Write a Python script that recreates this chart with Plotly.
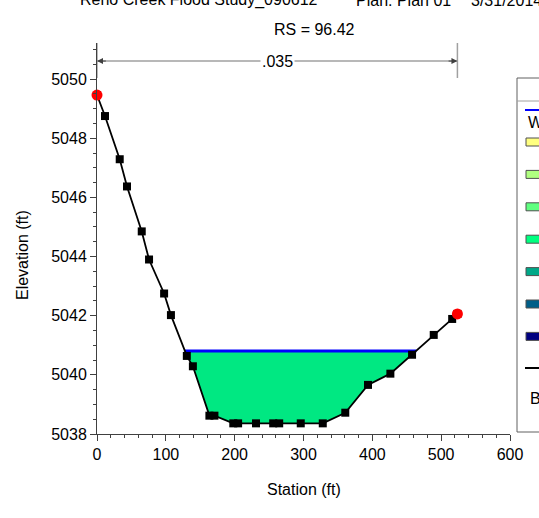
import plotly.graph_objects as go
import numpy as np

# ---------------- data ----------------
station = [0, 11.6, 33, 43.6, 65, 75.6, 97.5, 107.4, 130.5, 139.3, 163.3, 170.6,
           198, 205, 231, 256, 264.7, 296, 328, 360.7, 393.7, 426.2, 457.7,
           489.2, 516, 523.6]
elevation = [5049.46, 5048.75, 5047.29, 5046.37, 5044.85, 5043.9, 5042.75, 5042.02,
             5040.64, 5040.29, 5038.62, 5038.62, 5038.36, 5038.36, 5038.36, 5038.36,
             5038.36, 5038.36, 5038.36, 5038.72, 5039.66, 5040.04, 5040.68,
             5041.35, 5041.89, 5042.06]
bank_station = [0, 523.6]
bank_elev = [5049.46, 5042.06]
ws_elev = 5040.81
n_value = ".035"
n_from, n_to = 0, 523.6

title_parts = ["Reno Creek Flood Study_090612", "Plan: Plan 01", "3/31/2014"]
subtitle = "RS = 96.42"
x_title = "Station (ft)"
y_title = "Elevation (ft)"
legend_colors = ["#FFFF80", "#B0FF80", "#60FF80", "#00FF80", "#00A888", "#005E88", "#000080"]

FONT = "Arial, Liberation Sans, sans-serif"
W, H = 539, 518
L, R, T, B = 97, 29, 43, 84
PW, PH = W - L - R, H - T - B


def px(xp):
    return (xp - L) / PW


def py(yp):
    return (H - B - yp) / PH


# ---------------- water polygon ----------------
st = np.array(station, float)
el = np.array(elevation, float)
poly_x, poly_y = [], []
for i in range(len(st) - 1):
    a, b = el[i] - ws_elev, el[i + 1] - ws_elev
    if a < 0:
        poly_x.append(st[i]); poly_y.append(el[i])
    if a * b < 0:
        t = a / (a - b)
        poly_x.append(st[i] + t * (st[i + 1] - st[i])); poly_y.append(ws_elev)
ws_x = [min(x for x, y in zip(poly_x, poly_y) if y == ws_elev),
        max(x for x, y in zip(poly_x, poly_y) if y == ws_elev)]
poly_x.append(poly_x[0]); poly_y.append(poly_y[0])

fig = go.Figure()
fig.add_trace(go.Scatter(x=poly_x, y=poly_y, fill="toself", fillcolor="#00E882",
                         mode="none", hoverinfo="skip"))
fig.add_trace(go.Scatter(x=ws_x, y=[ws_elev, ws_elev], mode="lines",
                         line=dict(color="#0000FF", width=3)))
fig.add_trace(go.Scatter(x=station, y=elevation, mode="lines+markers",
                         line=dict(color="black", width=1.8),
                         marker=dict(symbol="square", size=8, color="black")))
fig.add_trace(go.Scatter(x=bank_station, y=bank_elev, mode="markers",
                         marker=dict(symbol="circle", size=11, color="#FF0000"),
                         cliponaxis=False))

shapes = []
annotations = []

# n value markers
n_y = 5050.61
for s in (n_from, n_to):
    shapes.append(dict(type="line", xref="x", yref="paper", x0=s, x1=s,
                       y0=py(78), y1=1, line=dict(color="#A0A0A0", width=1.5)))
shapes.append(dict(type="line", xref="x", yref="y", x0=n_from, x1=n_to, y0=n_y, y1=n_y,
                   line=dict(color="#A0A0A0", width=1.5)))
for tip, tail in ((n_from, n_from + 15), (n_to, n_to - 15)):
    annotations.append(dict(x=tip, y=n_y, ax=tail, ay=n_y, axref="x", ayref="y",
                            xref="x", yref="y", text="", showarrow=True,
                            arrowhead=2, arrowsize=1.2, arrowwidth=1,
                            arrowcolor="#404040"))
annotations.append(dict(x=(n_from + n_to) / 2, y=n_y, xref="x", yref="y", text=n_value,
                        showarrow=False, bgcolor="white",
                        font=dict(family=FONT, size=16, color="black")))

# titles
for txt, xp in zip(title_parts, (78, 354, 469)):
    annotations.append(dict(x=px(xp), y=py(0), xref="paper", yref="paper", text=txt,
                            xanchor="left", yanchor="middle", showarrow=False,
                            font=dict(family=FONT, size=16, color="black")))
annotations.append(dict(x=px(314.5), y=py(30), xref="paper", yref="paper", text=subtitle,
                        xanchor="center", yanchor="middle", showarrow=False,
                        font=dict(family=FONT, size=16, color="black")))
annotations.append(dict(x=px(304), y=py(489), xref="paper", yref="paper", text=x_title,
                        xanchor="center", yanchor="middle", showarrow=False,
                        font=dict(family=FONT, size=16, color="black")))
annotations.append(dict(x=px(22), y=py(255), xref="paper", yref="paper", text=y_title,
                        xanchor="center", yanchor="middle", showarrow=False, textangle=-90,
                        font=dict(family=FONT, size=16, color="black")))

# legend box (clipped by window)
shapes.append(dict(type="rect", xref="paper", yref="paper", x0=px(517), x1=px(600),
                   y0=py(432), y1=py(78), line=dict(color="#606060", width=1),
                   fillcolor="white"))
shapes.append(dict(type="line", xref="paper", yref="paper", x0=px(517), x1=px(600),
                   y0=py(101), y1=py(101), line=dict(color="#A0A0A0", width=1)))
shapes.append(dict(type="line", xref="paper", yref="paper", x0=px(525), x1=px(560),
                   y0=py(110), y1=py(110), line=dict(color="#0000FF", width=2)))
for i, c in enumerate(legend_colors):
    yc = 142 + i * 32.4
    shapes.append(dict(type="rect", xref="paper", yref="paper", x0=px(526), x1=px(545),
                       y0=py(yc + 4), y1=py(yc - 4), fillcolor=c,
                       line=dict(color="#505050", width=1)))
shapes.append(dict(type="line", xref="paper", yref="paper", x0=px(525), x1=px(560),
                   y0=py(368), y1=py(368), line=dict(color="black", width=2)))
annotations.append(dict(x=px(526), y=py(122), xref="paper", yref="paper", text="WS PF 1",
                        xanchor="left", yanchor="middle", showarrow=False,
                        font=dict(family=FONT, size=16, color="black")))
annotations.append(dict(x=px(528), y=py(398), xref="paper", yref="paper", text="Bank Sta",
                        xanchor="left", yanchor="middle", showarrow=False,
                        font=dict(family=FONT, size=16, color="black")))

fig.update_layout(
    width=W, height=H, autosize=False,
    margin=dict(l=L, r=R, t=T, b=B, pad=0),
    paper_bgcolor="white", plot_bgcolor="white",
    showlegend=False,
    shapes=shapes, annotations=annotations,
    font=dict(family=FONT, size=16, color="black"),
)
fig.update_xaxes(range=[0, 600], dtick=100, tick0=0, showgrid=False, zeroline=False,
                 showline=True, linecolor="#404040", linewidth=1,
                 ticks="outside", ticklen=6, tickcolor="#404040",
                 minor=dict(dtick=20, tick0=0, ticks="outside", ticklen=3, tickcolor="#404040"),
                 tickfont=dict(family=FONT, size=16, color="black"))
fig.update_yaxes(range=[5038, 5051.22], dtick=2, tick0=5038, showgrid=False, zeroline=False,
                 showline=True, linecolor="#404040", linewidth=1,
                 ticks="outside", ticklen=6, tickcolor="#404040",
                 minor=dict(dtick=0.5, tick0=5038, ticks="outside", ticklen=3, tickcolor="#404040"),
                 tickfont=dict(family=FONT, size=16, color="black"))

fig.write_html("out.html")
